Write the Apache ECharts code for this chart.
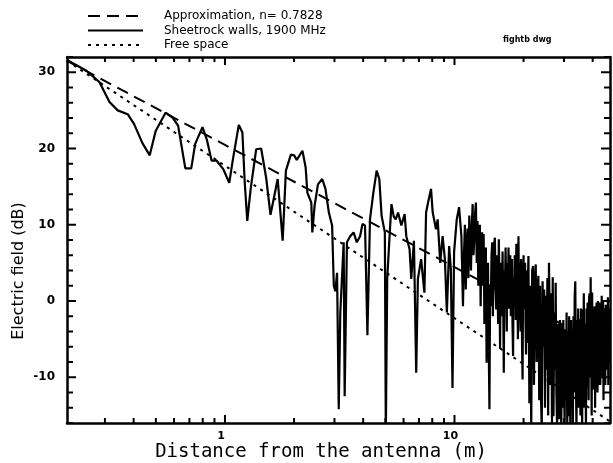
<!DOCTYPE html>
<html>
<head>
<meta charset="utf-8">
<script src="https://cdn.jsdelivr.net/npm/echarts@6/dist/echarts.min.js"></script>
<style>
  html, body { margin: 0; padding: 0; background: #fff; }
  #chart { width: 613px; height: 463px; }
</style>
</head>
<body>
<div id="chart"></div>
<script>
// measured field, sheetrock walls, 1900 MHz
var distM = [
  0.205, 0.249, 0.284, 0.314, 0.341, 0.377, 0.402, 0.437, 0.470, 0.499,
  0.551, 0.589, 0.625, 0.672, 0.713, 0.742, 0.798, 0.833, 0.875, 0.920,
  0.983, 1.044, 1.086, 1.149, 1.191, 1.219, 1.251, 1.294, 1.368, 1.438,
  1.511, 1.579, 1.631, 1.697, 1.784, 1.843, 1.937, 2.003, 2.055, 2.176,
  2.247, 2.286, 2.378, 2.402, 2.458, 2.542, 2.653, 2.741, 2.836, 2.930,
  2.980, 3.027, 3.079, 3.131, 3.181, 3.290, 3.323, 3.400, 3.513, 3.634,
  3.754, 3.879, 3.973, 4.076, 4.175, 4.284, 4.432, 4.580, 4.704, 4.813,
  4.973, 5.022, 5.092, 5.225, 5.314, 5.436, 5.546, 5.679, 5.868, 6.064,
  6.167, 6.373, 6.481, 6.658, 6.812, 6.927, 7.157, 7.396, 7.521, 7.694,
  7.903, 8.039, 8.307, 8.448, 8.668, 8.878, 9.083, 9.265, 9.479, 9.640,
  9.804, 9.961, 10.23, 10.47, 10.72, 10.89,
  11.0, 11.1, 11.2, 11.3, 11.4, 11.5, 11.6, 11.7, 11.8, 11.9,
  12.0, 12.1, 12.2, 12.3, 12.4, 12.5, 12.6, 12.7, 12.8, 12.9,
  13.0, 13.1, 13.2, 13.3, 13.4, 13.5, 13.6, 13.7, 13.8, 13.9,
  14.0, 14.1, 14.2, 14.3, 14.4, 14.5, 14.6, 14.7, 14.8, 14.9,
  15.0, 15.1, 15.2, 15.3, 15.4, 15.5, 15.6, 15.7, 15.8, 15.9,
  16.0, 16.1, 16.2, 16.3, 16.4, 16.5, 16.6, 16.7, 16.8, 16.9,
  17.0, 17.1, 17.2, 17.3, 17.4, 17.5, 17.6, 17.7, 17.8, 17.9,
  18.0, 18.1, 18.2, 18.3, 18.4, 18.5, 18.6, 18.7, 18.8, 18.9,
  19.0, 19.1, 19.2, 19.3, 19.4, 19.5, 19.6, 19.7, 19.8, 19.9,
  20.0, 20.1, 20.2, 20.3, 20.4, 20.5, 20.6, 20.7, 20.8, 20.9,
  21.0, 21.2, 21.4, 21.6, 21.8, 22.0, 22.2, 22.4, 22.6, 22.8,
  23.0, 23.2, 23.4, 23.6, 23.8, 24.0, 24.2, 24.4, 24.6, 24.8,
  25.0, 25.2, 25.4, 25.6, 25.8, 26.0, 26.2, 26.4, 26.6, 26.8,
  27.0, 27.2, 27.4, 27.6, 27.8, 28.0, 28.2, 28.4, 28.6, 28.8,
  29.0, 29.2, 29.4, 29.6, 29.8, 30.0, 30.2, 30.4, 30.6, 30.8,
  31.0, 31.2, 31.4, 31.6, 31.8, 32.0, 32.2, 32.4, 32.6, 32.8,
  33.0, 33.2, 33.4, 33.6, 33.8, 34.0, 34.2, 34.4, 34.6, 34.8,
  35.0, 35.2, 35.4, 35.6, 35.8, 36.0, 36.2, 36.4, 36.6, 36.8,
  37.0, 37.2, 37.4, 37.6, 37.8, 38.0, 38.2, 38.4, 38.6, 38.8,
  39.0, 39.2, 39.4, 39.6, 39.8, 40.0, 40.2, 40.4, 40.6, 40.8,
  41.0, 41.2, 41.4, 41.6, 41.8, 42.0, 42.2, 42.4, 42.6, 42.8,
  43.0, 43.2, 43.4, 43.6, 43.8, 44.0, 44.2, 44.4, 44.6, 44.8,
  45.0, 45.2, 45.4, 45.6, 45.8, 46.0, 46.2, 46.4, 46.6, 46.8,
  47.0, 47.2, 47.4, 47.6
];
var fieldDb = [
  31.6, 30.2, 28.7, 26.1, 25.0, 24.5, 23.2, 20.7, 19.1, 22.3,
  24.7, 24.1, 23.0, 17.4, 17.4, 20.6, 22.8, 21.2, 18.4, 18.4,
  17.3, 15.5, 18.8, 23.1, 22.1, 15.6, 10.5, 14.7, 19.9, 20.0,
  16.2, 11.3, 13.4, 16.0, 7.9, 17.1, 19.2, 19.1, 18.5, 19.7,
  17.5, 14.2, 12.9, 9.0, 12.5, 15.3, 16.0, 14.7, 11.6, 9.9,
  2.0, 1.3, 3.7, -14.2, -1.5, 7.7, -12.5, 7.7, 8.5, 9.0,
  7.7, 8.5, 10.1, 9.9, -4.5, 10.7, 14.2, 17.1, 16.0, 11.2,
  9.0, -17.5, 2.9, 9.0, 12.7, 11.1, 10.7, 11.6, 9.9, 11.4,
  8.5, 6.8, 2.9, 7.9, -9.4, 2.9, 5.5, 1.1, 11.6, 13.1,
  14.7, 11.6, 9.4, 10.7, 5.0, 8.5, 5.5, -1.5, 7.2, 4.2,
  -11.4, 6.4, 10.7, 12.3, 8.5, -0.7,
  6.0, 10.0, 1.5, 7.0, 9.5, 3.0, 11.2, 8.0, 4.0, 10.0,
  12.7, 6.0, 8.1, 11.5, 12.9, 5.0, 10.5, 2.0, 7.5, 10.0,
  -0.7, 6.5, 9.0, 2.0, 8.8, -3.0, 3.7, 7.0, -8.1, 4.0,
  5.0, -6.0, -14.2, 2.0, -0.7, 6.0, 7.7, -2.0, 4.0, 7.5,
  8.3, 2.0, -1.1, 6.0, 5.9, -3.0, 8.1, 3.0, -6.3, 5.0,
  3.7, -2.0, 6.5, 0.0, -9.4, 4.0, 2.0, 7.0, 1.5, -4.0,
  5.0, 0.5, 7.0, -1.0, 3.7, 6.0, -2.0, 3.0, 5.5, -3.0,
  -7.2, 3.0, -0.7, 6.0, 4.5, -2.5, 7.5, 0.5, 2.0, -5.0,
  8.5, 1.0, 5.0, -1.0, -4.0, 5.5, 3.7, -6.0, -10.3, 2.0,
  6.0, -1.0, 3.7, 5.0, -2.8, -7.0, 4.0, 0.0, -5.5, 3.0,
  5.9, -13.4, 2.0, -17.0, 4.0, 4.6, -11.0, 2.5, 4.8, -8.0,
  1.0, 3.3, -13.0, 2.0, -12.0, -17.0, 2.6, -6.0, 1.5, -14.0,
  0.7, -9.0, 3.0, -15.0, 5.0, -2.0, -11.0, 1.0, -16.0, 3.1,
  -15.1, -1.5, -9.0, 2.4, -12.0, -16.5, -3.0, -10.0, -15.5, -2.5,
  -12.0, -16.5, -3.0, -14.0, -2.5, -11.0, -16.0, -3.7, -13.0, -1.5,
  -16.5, -4.0, -15.1, -2.0, -12.0, -16.5, -2.5, -14.0, -3.7, -16.5,
  -2.0, -12.0, 0.5, 2.6, -9.0, -17.0, -2.5, -11.0, -1.0, -14.0,
  -2.4, -10.0, -15.0, -1.0, -9.0, -16.5, -1.1, -12.0, 1.0, -14.0,
  -3.0, -9.0, -16.0, -1.0, -11.0, -0.2, -8.0, -13.0, 0.5, 1.0,
  -10.0, 3.1, -6.0, -15.0, 1.1, -9.0, -11.6, -1.0, -10.0, -0.7,
  -14.0, -1.0, -10.0, -0.2, -8.0, -12.0, 0.0, -9.0, -11.0, -0.2,
  -6.0, -11.0, -1.1, -8.0, 0.7, -4.0, -9.9, 0.0, -13.0, -1.5,
  -8.0, -1.0, -11.0, -0.5, -7.0, -9.0, -1.0, -8.0, 0.5, -11.0,
  -3.0, -8.0, -1.0, -5.0
];

// straight lines on the log axis, end points only
var approxX = [0.205, 47.6];
var approxY = [31.5, -6.4];
var freeX = [0.205, 47.6];
var freeY = [31.5, -15.8];

var xMajorTicks = [1, 10];
var xMinorTicks = [0.3, 0.4, 0.5, 0.6, 0.7, 0.8, 0.9, 2, 3, 4, 5, 6, 7, 8, 9, 20, 30, 40];
var yMajorTicks = [-10, 0, 10, 20, 30];
var yMinorTicks = [-16, -14, -12, -8, -6, -4, -2, 2, 4, 6, 8, 12, 14, 16, 18, 22, 24, 26, 28, 32];

var X_MIN = 0.205, X_MAX = 47.6, Y_MIN = -16, Y_MAX = 32;

function pairs(xs, ys) {
  return xs.map(function (x, i) { return [x, ys[i]]; });
}

var tickData = [];
xMajorTicks.forEach(function (v) { tickData.push([v, Y_MIN, 0, 1]); });
xMinorTicks.forEach(function (v) { tickData.push([v, Y_MIN, 0, 0]); });
yMajorTicks.forEach(function (v) { tickData.push([X_MIN, v, 1, 1]); });
yMinorTicks.forEach(function (v) { tickData.push([X_MIN, v, 1, 0]); });

function renderTick(params, api) {
  var cs = params.coordSys;
  var pt = api.coord([api.value(0), api.value(1)]);
  var isY = api.value(2) === 1;
  var major = api.value(3) === 1;
  var st = { stroke: '#000', lineWidth: 2 };
  if (isY) {
    var len = major ? 9 : 6;
    return { type: 'group', children: [
      { type: 'line', shape: { x1: cs.x, y1: pt[1], x2: cs.x + len, y2: pt[1] }, style: st },
      { type: 'line', shape: { x1: cs.x + cs.width, y1: pt[1], x2: cs.x + cs.width - len, y2: pt[1] }, style: st }
    ]};
  }
  var l = major ? 8 : 5;
  return { type: 'group', children: [
    { type: 'line', shape: { x1: pt[0], y1: cs.y + cs.height, x2: pt[0], y2: cs.y + cs.height - l }, style: st },
    { type: 'line', shape: { x1: pt[0], y1: cs.y, x2: pt[0], y2: cs.y + l }, style: st }
  ]};
}

var chart = echarts.init(document.getElementById('chart'));
var axisLine = { show: true, onZero: false, lineStyle: { color: '#000', width: 2.5 } };

chart.setOption({
  backgroundColor: '#fff',
  animation: false,
  grid: { left: 67, top: 57, width: 549, height: 366 },
  legend: {
    orient: 'vertical',
    left: 82,
    top: 5,
    itemWidth: 55,
    itemHeight: 14,
    itemGap: 2.5,
    itemStyle: { opacity: 0 },
    data: ['Approximation, n= 0.7828', 'Sheetrock walls, 1900 MHz', 'Free space'],
    textStyle: { fontFamily: 'DejaVu Sans', fontSize: 12, color: '#000', padding: [0, 0, 0, 16] }
  },
  graphic: [
    { type: 'text', x: 503, y: 36, style: { text: 'fightb dwg', fontFamily: 'DejaVu Sans', fontSize: 8, fontWeight: 'bold', fill: '#000' } },
    { type: 'text', x: 321, y: 452, style: { text: 'Distance from the antenna (m)', fontFamily: 'DejaVu Sans Mono', fontSize: 19, fill: '#000', textAlign: 'center', textVerticalAlign: 'middle' } },
    { type: 'text', x: 19, y: 271, rotation: Math.PI / 2, style: { text: 'Electric field (dB)', fontFamily: 'DejaVu Sans', fontSize: 16, fill: '#000', textAlign: 'center', textVerticalAlign: 'middle' } }
  ],
  xAxis: [
    {
      type: 'log', logBase: 10, min: X_MIN, max: X_MAX, position: 'bottom',
      axisLine: axisLine, axisTick: { show: false }, splitLine: { show: false },
      axisLabel: {
        margin: 8, color: '#000', fontFamily: 'DejaVu Sans', fontWeight: 'bold', fontSize: 11,
        padding: [0, 8, 0, 0],
        formatter: function (v) {
          var e = Math.log10(v);
          return (v >= 1 && Math.abs(e - Math.round(e)) < 1e-6) ? String(Math.round(v)) : '';
        }
      }
    },
    {
      type: 'log', logBase: 10, min: X_MIN, max: X_MAX, position: 'top',
      axisLine: axisLine, axisTick: { show: false }, axisLabel: { show: false }, splitLine: { show: false }
    }
  ],
  yAxis: [
    {
      type: 'value', min: Y_MIN, max: Y_MAX, position: 'left',
      axisLine: axisLine, axisTick: { show: false }, splitLine: { show: false },
      axisLabel: {
        margin: 12, color: '#000', fontFamily: 'DejaVu Sans', fontWeight: 'bold', fontSize: 12,
        formatter: function (v) { return v % 10 === 0 ? String(v) : ''; }
      }
    },
    {
      type: 'value', min: Y_MIN, max: Y_MAX, position: 'right',
      axisLine: axisLine, axisTick: { show: false }, axisLabel: { show: false }, splitLine: { show: false }
    }
  ],
  series: [
    {
      name: 'Approximation, n= 0.7828', type: 'line', symbol: 'none',
      data: pairs(approxX, approxY),
      lineStyle: { color: '#000', width: 2, type: [12, 7] },
      itemStyle: { color: '#000' }
    },
    {
      name: 'Sheetrock walls, 1900 MHz', type: 'line', symbol: 'none',
      data: pairs(distM, fieldDb),
      lineStyle: { color: '#000', width: 2.2 },
      itemStyle: { color: '#000' }
    },
    {
      name: 'Free space', type: 'line', symbol: 'none',
      data: pairs(freeX, freeY),
      lineStyle: { color: '#000', width: 2, type: [3, 5] },
      itemStyle: { color: '#000' }
    },
    {
      type: 'custom', renderItem: renderTick, data: tickData, silent: true,
      encode: { x: 0, y: 1 }, clip: false
    }
  ]
});
</script>
</body>
</html>
